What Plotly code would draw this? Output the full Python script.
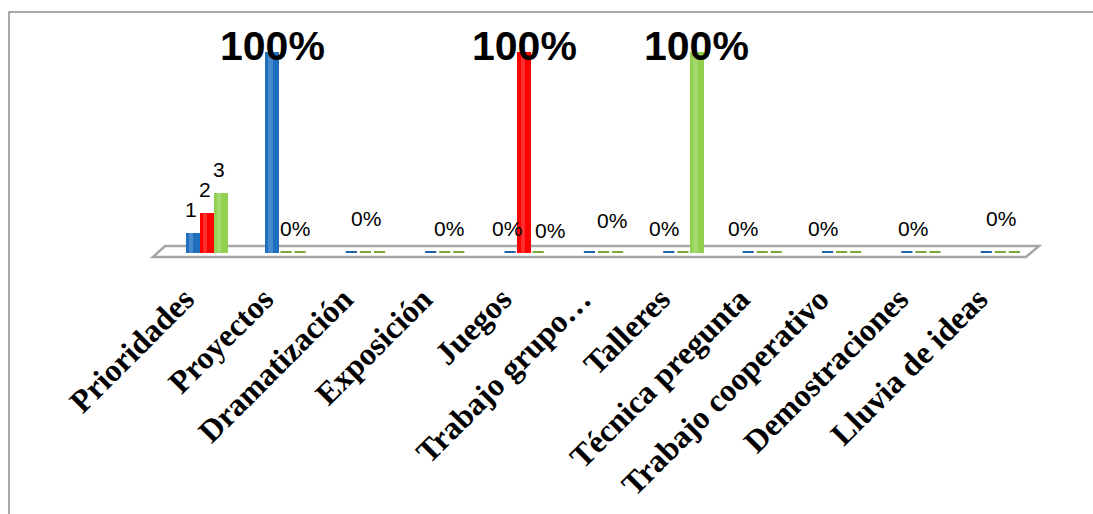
import plotly.graph_objects as go

# ---------------- data ----------------
categories = ["Prioridades", "Proyectos", "Dramatización", "Exposición", "Juegos",
              "Trabajo grupo…", "Talleres", "Técnica pregunta", "Trabajo cooperativo",
              "Demostraciones", "Lluvia de ideas"]
serie1 = [0.10, 1.00, 0, 0, 0, 0, 0, 0, 0, 0, 0]   # azul
serie2 = [0.20, 0, 0, 0, 1.00, 0, 0, 0, 0, 0, 0]   # rojo
serie3 = [0.30, 0, 0, 0, 0, 0, 1.00, 0, 0, 0, 0]   # verde
prioridad_labels = ["1", "2", "3"]
# visible "0%" labels: (category index, series index)
zero_labels = [(1, 1), (2, 1), (3, 1), (4, 0), (4, 2), (5, 1), (6, 0),
               (7, 0), (8, 0), (9, 1), (10, 1)]

# ---------------- style ----------------
W, H = 1093, 514
colors = ["#1f6fc0", "#ff0000", "#92d050"]
dot_colors = ["#1f62a8", "#7aa83a", "#7aa83a"]
series = [serie1, serie2, serie3]
bw = 0.177
x_left, x_right = 167, 1040
y_base, y_top = 253, 52
label_shift = -22

fig = go.Figure()
for s, vals in enumerate(series):
    xs = list(range(len(categories)))
    off = (s - 1) * bw - bw / 2
    fig.add_trace(go.Bar(x=xs, y=vals, width=bw, offset=off,
                         marker=dict(color=colors[s], line=dict(width=0)),
                         showlegend=False, hoverinfo="skip"))
    # highlight to suggest cylinder
    fig.add_trace(go.Bar(x=xs, y=vals, width=bw * 0.3, offset=off + bw * 0.25,
                         marker=dict(color="rgba(255,255,255,0.18)", line=dict(width=0)),
                         showlegend=False, hoverinfo="skip"))
    zx = [i + (s - 1) * bw for i, v in enumerate(vals) if v == 0]
    zy = [0 for v in vals if v == 0]
    fig.add_trace(go.Scatter(x=zx, y=zy, mode="markers",
                             marker=dict(symbol="line-ew", size=8,
                                         line=dict(color=dot_colors[s], width=4)),
                             showlegend=False, hoverinfo="skip"))

# carrier trace for the category label axis
fig.add_trace(go.Scatter(x=list(range(len(categories))), y=[None] * len(categories),
                         xaxis="x2", yaxis="y", mode="markers", showlegend=False,
                         hoverinfo="skip"))

annotations = []
# 100% labels
for s, vals in enumerate(series):
    for i, v in enumerate(vals):
        if v == 1:
            annotations.append(dict(x=i + (s - 1) * bw, y=v, text="100%", showarrow=False,
                                    yanchor="middle", yshift=6,
                                    font=dict(family="Liberation Sans", size=41,
                                              color="black", weight="bold")))
# Prioridades labels
for s, vals in enumerate(series):
    annotations.append(dict(x=0 + (s - 1) * bw, y=vals[0], text=prioridad_labels[s],
                            showarrow=False, yanchor="middle", yshift=23, xshift=-2,
                            font=dict(family="Liberation Sans", size=21, color="black")))
# 0% labels
zshift = {1: (9, 25), 2: (1, 35), 3: (4, 25), 5: (8, 33), 10: (1, 35), 9: (-8, 25)}
for (i, s) in zero_labels:
    if i == 4:
        xs_, ys_ = (-3, 25) if s == 0 else (12, 23)
        base_x = i + (s - 1) * bw
    elif i in (6, 7, 8):
        xs_, ys_ = (-5, 25)
        base_x = i + (s - 1) * bw
    else:
        xs_, ys_ = zshift[i]
        base_x = i
    annotations.append(dict(x=base_x, y=series[s][i], text="0%", showarrow=False,
                            yanchor="middle", xshift=xs_, yshift=ys_,
                            font=dict(family="Liberation Sans", size=21, color="black")))

def px(x):
    return x / W

def py(y):
    return 1 - y / H

shapes = [
    # chart frame
    dict(type="rect", xref="paper", yref="paper", x0=px(9), y0=py(H + 10), x1=px(W + 10), y1=py(12),
         line=dict(color="#8c8c8c", width=1.5)),
    # floor
    dict(type="path", xref="paper", yref="paper",
         path=f"M {px(165)},{py(246)} L {px(1039)},{py(246)} L {px(1026)},{py(257)} L {px(153)},{py(257)} Z",
         line=dict(color="#a6a6a6", width=2.5), fillcolor="rgba(0,0,0,0)", layer="below"),
]

fig.update_layout(
    width=W, height=H, margin=dict(l=0, r=0, t=0, b=0, autoexpand=False),
    paper_bgcolor="white", plot_bgcolor="rgba(0,0,0,0)",
    xaxis=dict(domain=[px(x_left), px(x_right)], range=[-0.5, 10.5], automargin=False,
               showticklabels=False, showgrid=False, zeroline=False, showline=False, ticks=""),
    xaxis2=dict(domain=[px(x_left + label_shift), px(x_right + label_shift)],
                range=[-0.5, 10.5], automargin=False, anchor="y",
                tickvals=list(range(len(categories))), ticktext=categories,
                tickangle=-45, showgrid=False, zeroline=False, showline=False, ticks="",
                ticklabelstandoff=20,
                tickfont=dict(family="Liberation Serif", size=32, color="black", weight="bold")),
    yaxis=dict(domain=[py(y_base), py(y_top)], range=[0, 1], visible=False, automargin=False),
    annotations=annotations, shapes=shapes, bargap=0,
)

fig.write_html("out.html", config={"displayModeBar": False},
               post_script="document.body.style.margin='0';document.body.style.overflow='hidden';")
